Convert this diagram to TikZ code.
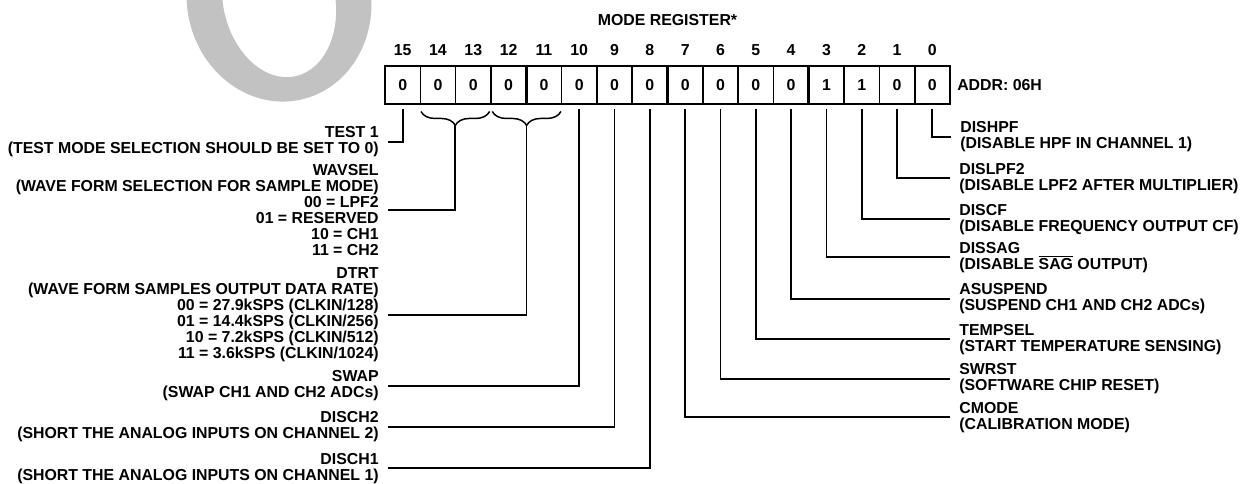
\documentclass[tikz,border=0pt]{standalone}
\usepackage{fontspec}
\setmainfont{Liberation Sans}
\usetikzlibrary{decorations.pathreplacing, calc}
\definecolor{wmgray}{HTML}{C2C2C2}

\tikzset{
  regfont/.style={font=\fontsize{11.9pt}{12pt}\selectfont\bfseries},
  cell/.style={draw, line width=1.2pt, minimum width=26.48pt, minimum height=28.5pt, inner sep=0pt, outer sep=0pt, regfont},
  lbl/.style={regfont, inner sep=0pt, outer xsep=7pt},
  wire/.style={line width=1.3pt},
  regbrace/.style={line width=1.1pt, decorate, decoration={brace, mirror, amplitude=10.5pt}},
}

\begin{document}
\begin{tikzpicture}[x=0.75pt, y=-0.75pt]
  \useasboundingbox (0,0) rectangle (1244,484);

  % watermark ring
  \fill[wmgray, even odd rule, rotate around={12:(279,0)}]
    (279,0) ellipse [x radius=92, y radius=102]
    (279,0) ellipse [x radius=56, y radius=78];

  \node[regfont] (title) at (667.5,20) {MODE REGISTER*};

  % register cells and bit numbers
  \foreach \b/\v [count=\i from 0] in {15/0,14/0,13/0,12/0,11/0,10/0,9/0,8/0,7/0,6/0,5/0,4/0,3/1,2/1,1/0,0/0} {
    \node[cell] (c\b) at ({402.66+\i*35.3125},85) {\v};
    \node[regfont] (n\b) at ({402.66+\i*35.3125},50) {\b};
  }
  \foreach \b in {12,8,4}
    \draw[line width=1.9pt] (c\b.north east) -- (c\b.south east);
  \node[regfont, anchor=west, inner sep=0pt] (addr) at (957,85) {ADDR: 06H};

  % left labels
  \node[lbl, left, align=right] (test) at (388,141.7) {TEST 1\\(TEST MODE SELECTION SHOULD BE SET TO 0)};
  \node[lbl, left, align=right] (wavsel) at (388,210) {WAVSEL\\(WAVE FORM SELECTION FOR SAMPLE MODE)\\00 = LPF2\\01 = RESERVED\\10 = CH1\\11 = CH2};
  \node[lbl, left, align=right] (dtrt) at (388,315) {DTRT\\(WAVE FORM SAMPLES OUTPUT DATA RATE)\\00 = 27.9kSPS (CLKIN/128)\\01 = 14.4kSPS (CLKIN/256)\\10 = 7.2kSPS (CLKIN/512)\\11 = 3.6kSPS (CLKIN/1024)};
  \node[lbl, left, align=right] (swap) at (388,386) {SWAP\\(SWAP CH1 AND CH2 ADCs)};
  \node[lbl, left, align=right] (disch2) at (388,427) {DISCH2\\(SHORT THE ANALOG INPUTS ON CHANNEL 2)};
  \node[lbl, left, align=right] (disch1) at (388,468.3) {DISCH1\\(SHORT THE ANALOG INPUTS ON CHANNEL 1)};

  % right labels
  \node[lbl, right, align=left] (dishpf) at (951,137) {DISHPF\\(DISABLE HPF IN CHANNEL 1)};
  \node[lbl, right, align=left] (dislpf) at (950,178.3) {DISLPF2\\(DISABLE LPF2 AFTER MULTIPLIER)};
  \node[lbl, right, align=left] (discf) at (950,219.3) {DISCF\\(DISABLE FREQUENCY OUTPUT CF)};
  \node[lbl, right, align=left] (dissag) at (950,257.3) {DISSAG\\(DISABLE $\overline{\hbox{SAG}}$ OUTPUT)};
  \node[lbl, right, align=left] (asuspend) at (950,299) {ASUSPEND\\(SUSPEND CH1 AND CH2 ADCs)};
  \node[lbl, right, align=left] (tempsel) at (950,339.3) {TEMPSEL\\(START TEMPERATURE SENSING)};
  \node[lbl, right, align=left] (swrst) at (950,379) {SWRST\\(SOFTWARE CHIP RESET)};
  \node[lbl, right, align=left] (cmode) at (950,417.3) {CMODE\\(CALIBRATION MODE)};

  % braces for the two-bit fields
  \draw[regbrace] ([xshift=0.5pt, yshift=-5.6pt]c14.south west) -- ([xshift=-1pt, yshift=-5.6pt]c13.south east);
  \draw[regbrace] ([xshift=1pt, yshift=-5.6pt]c12.south west) -- ([xshift=-0.5pt, yshift=-5.6pt]c11.south east);
  \coordinate (wavtip) at ([xshift=-0.5pt, yshift=-16.1pt]c14.south east);
  \coordinate (dtrttip) at ([xshift=0.25pt, yshift=-16.1pt]c12.south east);

  % connectors
  \draw[wire] ([yshift=-3.75pt]c15.south) |- (test.east);
  \draw[wire] (wavtip) |- (wavsel.east);
  \draw[wire] (dtrttip) |- (dtrt.east);
  \foreach \b/\t in {10/swap, 9/disch2, 8/disch1}
    \draw[wire] ([yshift=-3.75pt]c\b.south) |- (\t.east);
  \foreach \b/\t in {0/dishpf, 1/dislpf, 2/discf, 3/dissag, 4/asuspend, 5/tempsel, 6/swrst, 7/cmode}
    \draw[wire] ([yshift=-3.75pt]c\b.south) |- (\t.west);
\end{tikzpicture}
\end{document}
